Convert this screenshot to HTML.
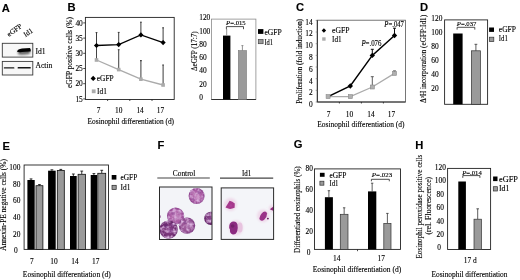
<!DOCTYPE html>
<html><head><meta charset="utf-8"><style>
html,body{margin:0;padding:0;background:#fff;}
svg{display:block;filter:blur(0.4px);}
text{font-family:'Liberation Serif',serif;stroke:#000;stroke-width:0.12px;}
</style></head><body>
<svg width="520" height="280" viewBox="0 0 520 280">
<defs>
<filter id="blur1" x="-50%" y="-50%" width="200%" height="200%"><feGaussianBlur stdDeviation="1.0"/></filter>
<filter id="blur04" x="-50%" y="-50%" width="200%" height="200%"><feGaussianBlur stdDeviation="0.4"/></filter>
<filter id="blur05" x="-50%" y="-50%" width="200%" height="200%"><feGaussianBlur stdDeviation="0.5"/></filter>
<radialGradient id="c1" cx="50%" cy="50%" r="50%"><stop offset="0" stop-color="#c07ab8"/><stop offset="0.75" stop-color="#a85aa2"/><stop offset="1" stop-color="#8a428c"/></radialGradient>
<radialGradient id="c2" cx="50%" cy="50%" r="50%"><stop offset="0" stop-color="#aa68a4"/><stop offset="0.75" stop-color="#945092"/><stop offset="1" stop-color="#7a3a80"/></radialGradient>
<radialGradient id="c3" cx="50%" cy="50%" r="50%"><stop offset="0" stop-color="#884286"/><stop offset="0.75" stop-color="#723074"/><stop offset="1" stop-color="#5e2264"/></radialGradient>
<filter id="mottle" x="0" y="0" width="100%" height="100%" color-interpolation-filters="sRGB">
<feTurbulence type="fractalNoise" baseFrequency="0.3" numOctaves="2" seed="11" result="n"/>
<feColorMatrix in="n" type="matrix" values="0 0 0 0 0.88  0 0 0 0 0.74  0 0 0 0 0.90  2.4 0 0 0 -0.95" result="spots0"/>
<feGaussianBlur in="spots0" stdDeviation="0.7" result="spots"/>
<feComposite in="spots" in2="SourceGraphic" operator="in" result="s2"/>
<feGaussianBlur in="SourceGraphic" stdDeviation="0.45" result="sg"/>
<feComposite in="s2" in2="sg" operator="in" result="s3"/>
<feMerge><feMergeNode in="sg"/><feMergeNode in="s3"/></feMerge>
</filter>
<clipPath id="clipC"><rect x="159.5" y="187" width="52.5" height="52.5"/></clipPath>
<clipPath id="clipI"><rect x="221.2" y="187.9" width="52.4" height="51.5"/></clipPath>
</defs>
<rect x="0" y="0" width="520" height="280" fill="#fff"/>
<text x="1.8" y="11.7" font-size="11.2" font-weight="bold" style="font-family:'Liberation Sans',sans-serif" fill="#000" stroke="#000" stroke-width="0.3">A</text>
<text x="9.1" y="37.0" font-size="7.3" text-anchor="start" fill="#000" transform="rotate(-36 9.1 37.0)" >eGFP</text>
<text x="25.5" y="37.2" font-size="7.3" text-anchor="start" fill="#000" transform="rotate(-34 25.5 37.2)" >Id1</text>
<rect x="2.3" y="43.3" width="30.5" height="13.8" fill="#f7f7f7" stroke="#3a3a3a" stroke-width="0.9"/>
<rect x="2.3" y="61.4" width="30.5" height="13.6" fill="#f7f7f7" stroke="#3a3a3a" stroke-width="0.9"/>
<path d="M17.6 51.0 L30.2 50.0 L29.8 53.8 Q24 55.4 18.4 54.4 Z" fill="#555" filter="url(#blur1)" opacity="0.9"/>
<path d="M17.0 51.8 Q17.6 49.0 22 48.5 L30.0 47.9 Q31.2 49.6 30.7 51.4 L22 52.1 Q18.6 52.6 17.0 51.8 Z" fill="#000" filter="url(#blur05)"/>
<rect x="3.8" y="67.2" width="10.6" height="1.4" rx="0.6" fill="#1e1e1e" filter="url(#blur04)"/>
<rect x="17.6" y="67.1" width="13.2" height="1.5" rx="0.6" fill="#161616" filter="url(#blur04)"/>
<text x="35.5" y="54.0" font-size="7.6" text-anchor="start" fill="#000" >Id1</text>
<text x="35.5" y="68.4" font-size="7.6" text-anchor="start" fill="#000" >Actin</text>
<text x="67.4" y="11.3" font-size="11.2" font-weight="bold" style="font-family:'Liberation Sans',sans-serif" fill="#000" stroke="#000" stroke-width="0.3">B</text>
<rect x="85.4" y="17.4" width="88.79999999999998" height="82.1" fill="none" stroke="#222" stroke-width="0.9"/>
<line x1="83.2" y1="98.9" x2="85.4" y2="98.9" stroke="#222" stroke-width="0.8"/>
<text x="82.80000000000001" y="101.5" font-size="7.4" text-anchor="end" fill="#000" >15</text>
<line x1="83.2" y1="83.7" x2="85.4" y2="83.7" stroke="#222" stroke-width="0.8"/>
<text x="82.80000000000001" y="86.3" font-size="7.4" text-anchor="end" fill="#000" >20</text>
<line x1="83.2" y1="68.5" x2="85.4" y2="68.5" stroke="#222" stroke-width="0.8"/>
<text x="82.80000000000001" y="71.1" font-size="7.4" text-anchor="end" fill="#000" >25</text>
<line x1="83.2" y1="53.300000000000004" x2="85.4" y2="53.300000000000004" stroke="#222" stroke-width="0.8"/>
<text x="82.80000000000001" y="55.900000000000006" font-size="7.4" text-anchor="end" fill="#000" >30</text>
<line x1="83.2" y1="38.10000000000001" x2="85.4" y2="38.10000000000001" stroke="#222" stroke-width="0.8"/>
<text x="82.80000000000001" y="40.70000000000001" font-size="7.4" text-anchor="end" fill="#000" >35</text>
<line x1="83.2" y1="22.900000000000006" x2="85.4" y2="22.900000000000006" stroke="#222" stroke-width="0.8"/>
<text x="82.80000000000001" y="25.500000000000007" font-size="7.4" text-anchor="end" fill="#000" >40</text>
<line x1="107.6" y1="99.5" x2="107.6" y2="101.0" stroke="#222" stroke-width="0.8"/>
<line x1="129.8" y1="99.5" x2="129.8" y2="101.0" stroke="#222" stroke-width="0.8"/>
<line x1="152.0" y1="99.5" x2="152.0" y2="101.0" stroke="#222" stroke-width="0.8"/>
<line x1="96.5" y1="45.5" x2="96.5" y2="32.6" stroke="#333" stroke-width="0.95"/>
<line x1="95.6" y1="32.6" x2="97.4" y2="32.6" stroke="#333" stroke-width="0.95"/>
<line x1="96.5" y1="60.0" x2="96.5" y2="45.5" stroke="#444" stroke-width="1.05"/>
<line x1="95.6" y1="45.5" x2="97.4" y2="45.5" stroke="#444" stroke-width="1.05"/>
<line x1="118.7" y1="44.6" x2="118.7" y2="32.4" stroke="#333" stroke-width="0.95"/>
<line x1="117.8" y1="32.4" x2="119.60000000000001" y2="32.4" stroke="#333" stroke-width="0.95"/>
<line x1="118.7" y1="69.6" x2="118.7" y2="49.7" stroke="#444" stroke-width="1.05"/>
<line x1="117.8" y1="49.7" x2="119.60000000000001" y2="49.7" stroke="#444" stroke-width="1.05"/>
<line x1="140.9" y1="34.9" x2="140.9" y2="22.2" stroke="#333" stroke-width="0.95"/>
<line x1="140.0" y1="22.2" x2="141.8" y2="22.2" stroke="#333" stroke-width="0.95"/>
<line x1="140.9" y1="79.2" x2="140.9" y2="60.6" stroke="#444" stroke-width="1.05"/>
<line x1="140.0" y1="60.6" x2="141.8" y2="60.6" stroke="#444" stroke-width="1.05"/>
<line x1="163.1" y1="42.6" x2="163.1" y2="27.8" stroke="#333" stroke-width="0.95"/>
<line x1="162.2" y1="27.8" x2="164.0" y2="27.8" stroke="#333" stroke-width="0.95"/>
<line x1="163.1" y1="85.0" x2="163.1" y2="65.0" stroke="#444" stroke-width="1.05"/>
<line x1="162.2" y1="65.0" x2="164.0" y2="65.0" stroke="#444" stroke-width="1.05"/>
<polyline points="96.5,60.0 118.7,69.6 140.9,79.2 163.1,85.0" fill="none" stroke="#ababab" stroke-width="1.35"/>
<polyline points="96.5,45.5 118.7,44.6 140.9,34.9 163.1,42.6" fill="none" stroke="#000" stroke-width="1.3"/>
<rect x="94.7" y="58.2" width="3.6" height="3.6" fill="#ababab" stroke="none" stroke-width="0.8"/>
<path d="M96.5 42.9 L99.1 45.5 L96.5 48.1 L93.9 45.5 Z" fill="#000"/>
<rect x="116.9" y="67.8" width="3.6" height="3.6" fill="#ababab" stroke="none" stroke-width="0.8"/>
<path d="M118.7 42.0 L121.3 44.6 L118.7 47.2 L116.10000000000001 44.6 Z" fill="#000"/>
<rect x="139.1" y="77.4" width="3.6" height="3.6" fill="#ababab" stroke="none" stroke-width="0.8"/>
<path d="M140.9 32.3 L143.5 34.9 L140.9 37.5 L138.3 34.9 Z" fill="#000"/>
<rect x="161.29999999999998" y="83.2" width="3.6" height="3.6" fill="#ababab" stroke="none" stroke-width="0.8"/>
<path d="M163.1 40.0 L165.7 42.6 L163.1 45.2 L160.5 42.6 Z" fill="#000"/>
<path d="M93.2 75.8 L95.8 78.4 L93.2 81.0 L90.6 78.4 Z" fill="#000"/>
<text x="96.8" y="80.9" font-size="7.4" text-anchor="start" fill="#000" >eGFP</text>
<rect x="91.8" y="89.4" width="3.8" height="3.8" fill="#ababab" stroke="none" stroke-width="0.8"/>
<text x="97.0" y="93.9" font-size="7.4" text-anchor="start" fill="#000" >Id1</text>
<text x="98.6" y="112.8" font-size="7.4" text-anchor="middle" fill="#000" >7</text>
<text x="118.7" y="112.8" font-size="7.4" text-anchor="middle" fill="#000" >10</text>
<text x="140.1" y="112.8" font-size="7.4" text-anchor="middle" fill="#000" >14</text>
<text x="160.4" y="112.8" font-size="7.4" text-anchor="middle" fill="#000" >17</text>
<text x="130.8" y="123.9" font-size="7.4" text-anchor="middle" fill="#000" textLength="86.5" lengthAdjust="spacingAndGlyphs" >Eosinophil differentiation (d)</text>
<text x="72.4" y="52.5" font-size="8.0" text-anchor="middle" fill="#000" textLength="71.0" lengthAdjust="spacingAndGlyphs" transform="rotate(-90 72.4 52.5)" >eGFP positive cells (%)</text>
<rect x="211.4" y="19.1" width="44.5" height="80.4" fill="none" stroke="#8a8a8a" stroke-width="0.8"/>
<line x1="211.4" y1="99.5" x2="255.9" y2="99.5" stroke="#222" stroke-width="0.9"/>
<text x="199.2" y="99.8" font-size="7.4" text-anchor="start" fill="#000" >0</text>
<text x="199.2" y="86.58" font-size="7.4" text-anchor="start" fill="#000" >20</text>
<text x="199.2" y="73.36" font-size="7.4" text-anchor="start" fill="#000" >40</text>
<text x="199.2" y="60.14" font-size="7.4" text-anchor="start" fill="#000" >60</text>
<text x="199.2" y="46.92" font-size="7.4" text-anchor="start" fill="#000" >80</text>
<text x="199.2" y="33.7" font-size="7.4" text-anchor="start" fill="#000" >100</text>
<text x="199.2" y="20.48" font-size="7.4" text-anchor="start" fill="#000" >120</text>
<rect x="223.0" y="35.6" width="7.4" height="63.9" fill="#000" stroke="none" stroke-width="0.8"/>
<rect x="238.3" y="50.6" width="8.2" height="48.9" fill="#9a9a9a" stroke="#777" stroke-width="0.6"/>
<line x1="226.7" y1="35.6" x2="226.7" y2="29.0" stroke="#777" stroke-width="0.8"/>
<line x1="242.4" y1="50.6" x2="242.4" y2="45.6" stroke="#777" stroke-width="0.8"/>
<line x1="241.4" y1="45.6" x2="243.4" y2="45.6" stroke="#777" stroke-width="0.8"/>
<path d="M226.4 29.200000000000003 L226.4 26.6 L243.5 26.6 L243.5 29.200000000000003" fill="none" stroke="#222" stroke-width="0.8"/>
<text x="235.9" y="25.4" font-size="6.0" text-anchor="middle" fill="#000" textLength="19.6" lengthAdjust="spacingAndGlyphs" ><tspan font-style="italic">P</tspan>=.015</text>
<rect x="258.0" y="29.1" width="5.4" height="4.8" fill="#000" stroke="none" stroke-width="0.8"/>
<text x="264.4" y="35.1" font-size="7.4" text-anchor="start" fill="#000" textLength="17.4" lengthAdjust="spacingAndGlyphs" >eGFP</text>
<rect x="258.3" y="39.4" width="4.8" height="4.3" fill="#9a9a9a" stroke="#444" stroke-width="0.7"/>
<text x="264.4" y="44.5" font-size="7.4" text-anchor="start" fill="#000" textLength="8.6" lengthAdjust="spacingAndGlyphs" >Id1</text>
<text x="196.6" y="51.15" font-size="8.8" text-anchor="middle" fill="#000" textLength="39.7" lengthAdjust="spacingAndGlyphs" transform="rotate(-90 196.6 51.15)" >&#916;eGFP (17:7)</text>
<text x="296.0" y="11.3" font-size="11.2" font-weight="bold" style="font-family:'Liberation Sans',sans-serif" fill="#000" stroke="#000" stroke-width="0.3">C</text>
<rect x="317.3" y="20.2" width="88.19999999999999" height="81.8" fill="none" stroke="#555" stroke-width="0.8"/>
<line x1="317.3" y1="20.2" x2="317.3" y2="102.0" stroke="#222" stroke-width="0.9"/>
<line x1="317.3" y1="102.0" x2="405.5" y2="102.0" stroke="#222" stroke-width="0.9"/>
<text x="312.7" y="107.3" font-size="7.4" text-anchor="end" fill="#000" >0</text>
<text x="312.7" y="95.47" font-size="7.4" text-anchor="end" fill="#000" >2</text>
<text x="312.7" y="83.64" font-size="7.4" text-anchor="end" fill="#000" >4</text>
<text x="312.7" y="71.82" font-size="7.4" text-anchor="end" fill="#000" >6</text>
<text x="312.7" y="59.99" font-size="7.4" text-anchor="end" fill="#000" >8</text>
<text x="312.7" y="48.16" font-size="7.4" text-anchor="end" fill="#000" >10</text>
<text x="312.7" y="36.33" font-size="7.4" text-anchor="end" fill="#000" >12</text>
<text x="312.7" y="24.5" font-size="7.4" text-anchor="end" fill="#000" >14</text>
<line x1="315.7" y1="102.0" x2="317.3" y2="102.0" stroke="#777" stroke-width="0.7"/>
<line x1="315.7" y1="90.34" x2="317.3" y2="90.34" stroke="#777" stroke-width="0.7"/>
<line x1="315.7" y1="78.68" x2="317.3" y2="78.68" stroke="#777" stroke-width="0.7"/>
<line x1="315.7" y1="67.02" x2="317.3" y2="67.02" stroke="#777" stroke-width="0.7"/>
<line x1="315.7" y1="55.36" x2="317.3" y2="55.36" stroke="#777" stroke-width="0.7"/>
<line x1="315.7" y1="43.7" x2="317.3" y2="43.7" stroke="#777" stroke-width="0.7"/>
<line x1="315.7" y1="32.03999999999999" x2="317.3" y2="32.03999999999999" stroke="#777" stroke-width="0.7"/>
<line x1="315.7" y1="20.379999999999995" x2="317.3" y2="20.379999999999995" stroke="#777" stroke-width="0.7"/>
<line x1="339.4" y1="102.0" x2="339.4" y2="103.5" stroke="#222" stroke-width="0.8"/>
<line x1="361.4" y1="102.0" x2="361.4" y2="103.5" stroke="#222" stroke-width="0.8"/>
<line x1="383.4" y1="102.0" x2="383.4" y2="103.5" stroke="#222" stroke-width="0.8"/>
<line x1="372.3" y1="55.4" x2="372.3" y2="49.3" stroke="#000" stroke-width="0.95"/>
<line x1="370.8" y1="49.3" x2="373.8" y2="49.3" stroke="#000" stroke-width="0.95"/>
<line x1="394.5" y1="35.5" x2="394.5" y2="28.2" stroke="#000" stroke-width="0.95"/>
<line x1="393.0" y1="28.2" x2="396.0" y2="28.2" stroke="#000" stroke-width="0.95"/>
<line x1="372.3" y1="87.0" x2="372.3" y2="76.7" stroke="#555" stroke-width="0.95"/>
<line x1="370.8" y1="76.7" x2="373.8" y2="76.7" stroke="#555" stroke-width="0.95"/>
<line x1="394.5" y1="73.4" x2="394.5" y2="70.9" stroke="#555" stroke-width="0.95"/>
<line x1="393.0" y1="70.9" x2="396.0" y2="70.9" stroke="#555" stroke-width="0.95"/>
<polyline points="328.1,96.6 350.3,96.6 372.3,87.0 394.5,73.4" fill="none" stroke="#ababab" stroke-width="1.3"/>
<polyline points="328.1,96.6 350.3,86.0 372.3,55.4 394.5,35.5" fill="none" stroke="#000" stroke-width="1.5"/>
<rect x="326.1" y="94.6" width="4.0" height="4.0" fill="#b0b0b0" stroke="#8a8a8a" stroke-width="0.6"/>
<rect x="348.3" y="94.6" width="4.0" height="4.0" fill="#b0b0b0" stroke="#8a8a8a" stroke-width="0.6"/>
<rect x="370.3" y="85.0" width="4.0" height="4.0" fill="#b0b0b0" stroke="#8a8a8a" stroke-width="0.6"/>
<rect x="392.5" y="71.4" width="4.0" height="4.0" fill="#b0b0b0" stroke="#8a8a8a" stroke-width="0.6"/>
<path d="M350.3 83.3 L353.0 86.0 L350.3 88.7 L347.6 86.0 Z" fill="#000"/>
<path d="M372.3 52.699999999999996 L375.0 55.4 L372.3 58.1 L369.6 55.4 Z" fill="#000"/>
<path d="M394.5 32.8 L397.2 35.5 L394.5 38.2 L391.8 35.5 Z" fill="#000"/>
<path d="M323.9 28.3 L326.1 30.5 L323.9 32.7 L321.7 30.5 Z" fill="#000"/>
<text x="332.0" y="33.0" font-size="7.4" text-anchor="start" fill="#000" textLength="17.4" lengthAdjust="spacingAndGlyphs" >eGFP</text>
<rect x="322.2" y="37.3" width="3.4" height="3.4" fill="#ababab" stroke="none" stroke-width="0.8"/>
<text x="332.0" y="41.6" font-size="7.4" text-anchor="start" fill="#000" textLength="9.6" lengthAdjust="spacingAndGlyphs" >Id1</text>
<text x="371.45" y="46.4" font-size="7.3" text-anchor="middle" fill="#000" textLength="20.1" lengthAdjust="spacingAndGlyphs" ><tspan font-style="italic">P</tspan>=.076</text>
<text x="394.15" y="27.1" font-size="7.3" text-anchor="middle" fill="#000" textLength="19.7" lengthAdjust="spacingAndGlyphs" ><tspan font-style="italic">P</tspan>=.047</text>
<text x="328.7" y="116.8" font-size="7.4" text-anchor="middle" fill="#000" >7</text>
<text x="349.4" y="116.8" font-size="7.4" text-anchor="middle" fill="#000" >10</text>
<text x="371.0" y="116.8" font-size="7.4" text-anchor="middle" fill="#000" >14</text>
<text x="391.4" y="116.8" font-size="7.4" text-anchor="middle" fill="#000" >17</text>
<text x="360.9" y="126.6" font-size="7.4" text-anchor="middle" fill="#000" textLength="87.2" lengthAdjust="spacingAndGlyphs" >Eosinophil differentiation (d)</text>
<text x="302.3" y="61.4" font-size="8.0" text-anchor="middle" fill="#000" textLength="84.8" lengthAdjust="spacingAndGlyphs" transform="rotate(-90 302.3 61.4)" >Proliferation (fold induction)</text>
<text x="420.0" y="11.3" font-size="11.2" font-weight="bold" style="font-family:'Liberation Sans',sans-serif" fill="#000" stroke="#000" stroke-width="0.3">D</text>
<rect x="444.6" y="19.9" width="43.0" height="84.4" fill="none" stroke="#222" stroke-width="0.9"/>
<text x="431.3" y="90.64" font-size="7.4" text-anchor="start" fill="#000" >20</text>
<text x="431.3" y="76.78" font-size="7.4" text-anchor="start" fill="#000" >40</text>
<text x="431.3" y="62.92" font-size="7.4" text-anchor="start" fill="#000" >60</text>
<text x="431.3" y="49.06" font-size="7.4" text-anchor="start" fill="#000" >80</text>
<text x="431.3" y="35.2" font-size="7.4" text-anchor="start" fill="#000" >100</text>
<text x="431.3" y="21.34" font-size="7.4" text-anchor="start" fill="#000" >120</text>
<rect x="453.2" y="33.5" width="9.4" height="70.8" fill="#000" stroke="none" stroke-width="0.8"/>
<rect x="471.4" y="50.8" width="9.0" height="53.5" fill="#9a9a9a" stroke="#333" stroke-width="0.7"/>
<line x1="475.9" y1="50.8" x2="475.9" y2="44.3" stroke="#333" stroke-width="0.8"/>
<line x1="474.5" y1="44.3" x2="477.29999999999995" y2="44.3" stroke="#333" stroke-width="0.8"/>
<path d="M457.1 29.6 L457.1 27.3 L474.8 27.3 L474.8 29.6" fill="none" stroke="#222" stroke-width="0.8"/>
<text x="466.6" y="26.0" font-size="6.0" text-anchor="middle" fill="#000" textLength="19.6" lengthAdjust="spacingAndGlyphs" ><tspan font-style="italic">P</tspan>=.037</text>
<rect x="489.1" y="27.5" width="4.9" height="4.4" fill="#000" stroke="none" stroke-width="0.8"/>
<text x="498.8" y="31.7" font-size="7.4" text-anchor="start" fill="#000" textLength="17.2" lengthAdjust="spacingAndGlyphs" >eGFP</text>
<rect x="489.4" y="37.2" width="4.4" height="4.4" fill="#9a9a9a" stroke="#333" stroke-width="0.7"/>
<text x="498.8" y="41.4" font-size="7.4" text-anchor="start" fill="#000" textLength="9.0" lengthAdjust="spacingAndGlyphs" >Id1</text>
<text x="426.1" y="58.9" font-size="8.0" text-anchor="middle" fill="#000" textLength="88.2" lengthAdjust="spacingAndGlyphs" transform="rotate(-90 426.1 58.9)" >&#916;<tspan font-size="5" dy="-2">3</tspan><tspan dy="2">H incorporation (eGFP:Id1)</tspan></text>
<text x="2.4" y="149.7" font-size="11.2" font-weight="bold" style="font-family:'Liberation Sans',sans-serif" fill="#000" stroke="#000" stroke-width="0.3">E</text>
<rect x="24.1" y="165.0" width="84.4" height="84.4" fill="none" stroke="#222" stroke-width="0.9"/>
<text x="17.8" y="253.2" font-size="7.4" text-anchor="end" fill="#000" >0</text>
<text x="20.4" y="236.6" font-size="7.4" text-anchor="end" fill="#000" >20</text>
<text x="20.4" y="220.0" font-size="7.4" text-anchor="end" fill="#000" >40</text>
<text x="20.4" y="203.4" font-size="7.4" text-anchor="end" fill="#000" >60</text>
<text x="20.4" y="186.8" font-size="7.4" text-anchor="end" fill="#000" >80</text>
<text x="20.4" y="170.2" font-size="7.4" text-anchor="end" fill="#000" >100</text>
<line x1="31.05" y1="180.0" x2="31.05" y2="178.9" stroke="#000" stroke-width="0.8"/>
<line x1="29.650000000000002" y1="178.9" x2="32.45" y2="178.9" stroke="#000" stroke-width="0.8"/>
<rect x="27.4" y="180.0" width="7.300000000000004" height="69.4" fill="#000" stroke="none" stroke-width="0.8"/>
<line x1="39.45" y1="185.7" x2="39.45" y2="184.6" stroke="#000" stroke-width="0.8"/>
<line x1="38.050000000000004" y1="184.6" x2="40.85" y2="184.6" stroke="#000" stroke-width="0.8"/>
<rect x="36.0" y="185.7" width="6.899999999999999" height="63.70000000000002" fill="#9a9a9a" stroke="#111" stroke-width="0.8"/>
<line x1="51.900000000000006" y1="170.7" x2="51.900000000000006" y2="169.8" stroke="#000" stroke-width="0.8"/>
<line x1="50.50000000000001" y1="169.8" x2="53.300000000000004" y2="169.8" stroke="#000" stroke-width="0.8"/>
<rect x="48.1" y="170.7" width="7.600000000000001" height="78.70000000000002" fill="#000" stroke="none" stroke-width="0.8"/>
<line x1="60.8" y1="170.4" x2="60.8" y2="169.4" stroke="#000" stroke-width="0.8"/>
<line x1="59.4" y1="169.4" x2="62.199999999999996" y2="169.4" stroke="#000" stroke-width="0.8"/>
<rect x="57.3" y="170.4" width="7.0" height="79.0" fill="#9a9a9a" stroke="#111" stroke-width="0.8"/>
<line x1="73.35" y1="176.0" x2="73.35" y2="174.0" stroke="#000" stroke-width="0.8"/>
<line x1="71.94999999999999" y1="174.0" x2="74.75" y2="174.0" stroke="#000" stroke-width="0.8"/>
<rect x="70.0" y="176.0" width="6.700000000000003" height="73.4" fill="#000" stroke="none" stroke-width="0.8"/>
<line x1="81.75" y1="174.3" x2="81.75" y2="171.1" stroke="#000" stroke-width="0.8"/>
<line x1="80.35" y1="171.1" x2="83.15" y2="171.1" stroke="#000" stroke-width="0.8"/>
<rect x="78.1" y="174.3" width="7.300000000000011" height="75.1" fill="#9a9a9a" stroke="#111" stroke-width="0.8"/>
<line x1="93.9" y1="175.0" x2="93.9" y2="173.6" stroke="#000" stroke-width="0.8"/>
<line x1="92.5" y1="173.6" x2="95.30000000000001" y2="173.6" stroke="#000" stroke-width="0.8"/>
<rect x="90.7" y="175.0" width="6.3999999999999915" height="74.4" fill="#000" stroke="none" stroke-width="0.8"/>
<line x1="101.75" y1="173.3" x2="101.75" y2="170.3" stroke="#000" stroke-width="0.8"/>
<line x1="100.35" y1="170.3" x2="103.15" y2="170.3" stroke="#000" stroke-width="0.8"/>
<rect x="97.8" y="173.3" width="7.900000000000006" height="76.1" fill="#9a9a9a" stroke="#111" stroke-width="0.8"/>
<rect x="111.7" y="175.0" width="4.7" height="4.6" fill="#000" stroke="none" stroke-width="0.8"/>
<text x="120.5" y="179.8" font-size="7.4" text-anchor="start" fill="#000" >eGFP</text>
<rect x="112.0" y="185.3" width="4.2" height="4.2" fill="#9a9a9a" stroke="#222" stroke-width="0.7"/>
<text x="120.5" y="190.0" font-size="7.4" text-anchor="start" fill="#000" >Id1</text>
<text x="31.9" y="263.6" font-size="7.4" text-anchor="middle" fill="#000" >7</text>
<text x="54.0" y="263.6" font-size="7.4" text-anchor="middle" fill="#000" >10</text>
<text x="75.0" y="263.6" font-size="7.4" text-anchor="middle" fill="#000" >14</text>
<text x="95.8" y="263.6" font-size="7.4" text-anchor="middle" fill="#000" >17</text>
<text x="66.8" y="276.9" font-size="7.4" text-anchor="middle" fill="#000" textLength="88.0" lengthAdjust="spacingAndGlyphs" >Eosinophil differentiation (d)</text>
<text x="6.4" y="204.9" font-size="8.0" text-anchor="middle" fill="#000" textLength="91.6" lengthAdjust="spacingAndGlyphs" transform="rotate(-90 6.4 204.9)" >Annexin-PE negative cells (%)</text>
<text x="157.4" y="149.4" font-size="11.2" font-weight="bold" style="font-family:'Liberation Sans',sans-serif" fill="#000" stroke="#000" stroke-width="0.3">F</text>
<text x="184.1" y="176.0" font-size="7.4" text-anchor="middle" fill="#000" textLength="22.5" lengthAdjust="spacingAndGlyphs" >Control</text>
<line x1="157.3" y1="178.0" x2="209.8" y2="178.0" stroke="#444" stroke-width="1.2"/>
<text x="246.6" y="175.7" font-size="7.4" text-anchor="middle" fill="#000" textLength="9.2" lengthAdjust="spacingAndGlyphs" >Id1</text>
<line x1="220.0" y1="178.1" x2="273.2" y2="178.1" stroke="#444" stroke-width="1.2"/>
<g clip-path="url(#clipC)">
<rect x="159.5" y="187.0" width="52.5" height="52.5" fill="#f3f4f8" stroke="none" stroke-width="0.8"/>
<circle cx="196.6" cy="196.0" r="8.0" fill="url(#c1)" filter="url(#mottle)"/>
<circle cx="175.6" cy="216.0" r="8.6" fill="url(#c1)" filter="url(#mottle)"/>
<circle cx="187.0" cy="225.6" r="8.2" fill="url(#c2)" filter="url(#mottle)"/>
<circle cx="168.6" cy="229.6" r="9.2" fill="url(#c3)" filter="url(#mottle)"/>
<circle cx="210.8" cy="218.4" r="6.6" fill="url(#c3)" filter="url(#mottle)"/>
<circle cx="159.2" cy="216.5" r="1.6" fill="url(#c3)" filter="url(#mottle)"/>
<circle cx="198.5" cy="197.5" r="2.2" fill="#d2a7d0" filter="url(#blur05)" opacity="0.45"/>
<circle cx="194.5" cy="194.2" r="1.6" fill="#c79ac6" filter="url(#blur05)" opacity="0.45"/>
<circle cx="199.0" cy="192.4" r="1.8" fill="#7f3e8c" filter="url(#blur05)" opacity="0.45"/>
<circle cx="193.2" cy="199.2" r="1.4" fill="#8d4c96" filter="url(#blur05)" opacity="0.45"/>
<circle cx="177.5" cy="217.5" r="2.4" fill="#c394c4" filter="url(#blur05)" opacity="0.45"/>
<circle cx="173.2" cy="213.5" r="1.8" fill="#8a4a94" filter="url(#blur05)" opacity="0.45"/>
<circle cx="179.2" cy="212.8" r="1.4" fill="#b888bb" filter="url(#blur05)" opacity="0.45"/>
<circle cx="174.0" cy="219.6" r="1.6" fill="#b384b7" filter="url(#blur05)" opacity="0.45"/>
<circle cx="188.5" cy="226.5" r="2.2" fill="#b080b6" filter="url(#blur05)" opacity="0.45"/>
<circle cx="185.0" cy="222.5" r="1.5" fill="#7a3d88" filter="url(#blur05)" opacity="0.45"/>
<circle cx="190.2" cy="222.0" r="1.3" fill="#a06aa8" filter="url(#blur05)" opacity="0.45"/>
<circle cx="170.5" cy="230.5" r="2.6" fill="#874496" filter="url(#blur05)" opacity="0.45"/>
<circle cx="166.0" cy="226.0" r="2.0" fill="#5e2270" filter="url(#blur05)" opacity="0.45"/>
<circle cx="172.0" cy="225.0" r="1.6" fill="#7a3a88" filter="url(#blur05)" opacity="0.45"/>
<circle cx="210.0" cy="218.5" r="2.0" fill="#8c4b96" filter="url(#blur05)" opacity="0.45"/>
</g>
<rect x="159.5" y="187.0" width="52.5" height="52.5" fill="none" stroke="#2a2a2a" stroke-width="1.0"/>
<g clip-path="url(#clipI)">
<rect x="221.2" y="187.9" width="52.4" height="51.5" fill="#f4f5f9" stroke="none" stroke-width="0.8"/>
<ellipse cx="230.5" cy="204.5" rx="6.6" ry="6.4" fill="#efd9ea" filter="url(#blur1)"/>
<ellipse cx="236.0" cy="227.8" rx="7.0" ry="7.6" fill="#efd9ea" filter="url(#blur1)"/>
<ellipse cx="263.2" cy="215.8" rx="6.2" ry="6.4" fill="#efd9ea" filter="url(#blur1)"/>
<ellipse cx="272.5" cy="208.5" rx="3.6" ry="3.6" fill="#efd9ea" filter="url(#blur1)"/>
<ellipse cx="240.0" cy="227.5" rx="2.6" ry="5.0" fill="#e7c3df" filter="url(#blur05)"/>
<path d="M225.5 207.4 L229.6 200.8 Q232.5 201.2 234.8 203.6 L234.6 207.8 Q231.5 209.2 229 208.8 Z" fill="#a6388c" filter="url(#blur05)"/>
<path d="M229.3 225.5 Q230 221.8 233.5 221.5 Q236.6 221.4 237.5 224.5 Q238.1 228 237.3 231 Q236 234.8 232.8 234.5 Q229.5 233.5 230 229.6 Q228.8 227.8 229.3 225.5 Z" fill="#8c2a80" filter="url(#blur05)"/>
<path d="M259.4 219.0 Q259.8 214.6 263.2 212.0 Q266.4 210.8 267.0 213.4 Q267.2 217.0 264.2 219.8 Q261.0 221.8 259.4 219.0 Z" fill="#9a3088" filter="url(#blur05)"/>
<path d="M269.8 209.2 L273.8 206.2 L273.8 211.0 Z" fill="#8e2a7a" filter="url(#blur05)"/>
<circle cx="232.6" cy="226.0" r="1.8" fill="#6a1a62" filter="url(#blur05)" opacity="0.7"/>
<circle cx="230.8" cy="205.6" r="1.4" fill="#b0409a" filter="url(#blur05)" opacity="0.8"/>
<circle cx="267.9" cy="218.6" r="0.9" fill="#5e1458" filter="url(#blur04)"/>
</g>
<rect x="221.2" y="187.9" width="52.4" height="51.5" fill="none" stroke="#2a2a2a" stroke-width="1.0"/>
<text x="293.7" y="148.4" font-size="11.2" font-weight="bold" style="font-family:'Liberation Sans',sans-serif" fill="#000" stroke="#000" stroke-width="0.3">G</text>
<rect x="314.5" y="168.9" width="86.0" height="80.5" fill="none" stroke="#222" stroke-width="0.9"/>
<text x="308.6" y="254.7" font-size="7.4" text-anchor="middle" fill="#000" >0</text>
<text x="309.2" y="233.7" font-size="7.4" text-anchor="middle" fill="#000" >20</text>
<text x="309.2" y="212.7" font-size="7.4" text-anchor="middle" fill="#000" >40</text>
<text x="309.2" y="191.7" font-size="7.4" text-anchor="middle" fill="#000" >60</text>
<text x="309.2" y="170.7" font-size="7.4" text-anchor="middle" fill="#000" >80</text>
<line x1="357.5" y1="249.4" x2="357.5" y2="251.20000000000002" stroke="#222" stroke-width="0.8"/>
<line x1="328.9" y1="197.2" x2="328.9" y2="190.7" stroke="#333" stroke-width="0.8"/>
<line x1="327.7" y1="190.7" x2="330.09999999999997" y2="190.7" stroke="#333" stroke-width="0.8"/>
<rect x="324.9" y="197.2" width="8.0" height="52.20000000000002" fill="#000" stroke="none" stroke-width="0.8"/>
<line x1="344.15" y1="214.3" x2="344.15" y2="207.8" stroke="#333" stroke-width="0.8"/>
<line x1="342.95" y1="207.8" x2="345.34999999999997" y2="207.8" stroke="#333" stroke-width="0.8"/>
<rect x="340.3" y="214.3" width="7.699999999999989" height="35.099999999999994" fill="#9a9a9a" stroke="#333" stroke-width="0.7"/>
<line x1="372.15" y1="191.4" x2="372.15" y2="183.2" stroke="#333" stroke-width="0.8"/>
<line x1="370.95" y1="183.2" x2="373.34999999999997" y2="183.2" stroke="#333" stroke-width="0.8"/>
<rect x="368.0" y="191.4" width="8.300000000000011" height="58.0" fill="#000" stroke="none" stroke-width="0.8"/>
<line x1="387.4" y1="223.4" x2="387.4" y2="213.4" stroke="#333" stroke-width="0.8"/>
<line x1="386.2" y1="213.4" x2="388.59999999999997" y2="213.4" stroke="#333" stroke-width="0.8"/>
<rect x="383.8" y="223.4" width="7.199999999999989" height="26.0" fill="#9a9a9a" stroke="#333" stroke-width="0.7"/>
<path d="M371.4 181.3 L371.4 179.3 L389.3 179.3 L389.3 181.3" fill="none" stroke="#222" stroke-width="0.8"/>
<text x="382.0" y="177.3" font-size="6.4" text-anchor="middle" fill="#000" textLength="20.3" lengthAdjust="spacingAndGlyphs" ><tspan font-style="italic">P</tspan>=.023</text>
<rect x="319.9" y="172.8" width="4.7" height="4.0" fill="#000" stroke="none" stroke-width="0.8"/>
<text x="329.4" y="178.1" font-size="7.4" text-anchor="start" fill="#000" textLength="17.0" lengthAdjust="spacingAndGlyphs" >eGFP</text>
<rect x="319.9" y="181.2" width="4.0" height="4.0" fill="#9a9a9a" stroke="#333" stroke-width="0.7"/>
<text x="329.4" y="185.8" font-size="7.4" text-anchor="start" fill="#000" textLength="9.0" lengthAdjust="spacingAndGlyphs" >Id1</text>
<text x="336.7" y="260.6" font-size="7.4" text-anchor="middle" fill="#000" >14</text>
<text x="381.2" y="260.6" font-size="7.4" text-anchor="middle" fill="#000" >17</text>
<text x="357.0" y="272.3" font-size="7.4" text-anchor="middle" fill="#000" textLength="88.5" lengthAdjust="spacingAndGlyphs" >Eosinophil differentiation (d)</text>
<text x="300.4" y="209.6" font-size="8.0" text-anchor="middle" fill="#000" textLength="86.6" lengthAdjust="spacingAndGlyphs" transform="rotate(-90 300.4 209.6)" >Differentiated eosinophils (%)</text>
<text x="415.2" y="148.9" font-size="11.2" font-weight="bold" style="font-family:'Liberation Sans',sans-serif" fill="#000" stroke="#000" stroke-width="0.3">H</text>
<rect x="447.6" y="168.4" width="43.0" height="81.1" fill="none" stroke="#222" stroke-width="0.9"/>
<text x="439.1" y="250.3" font-size="7.4" text-anchor="middle" fill="#000" >0</text>
<text x="440.3" y="236.92" font-size="7.4" text-anchor="middle" fill="#000" >20</text>
<text x="440.3" y="223.54" font-size="7.4" text-anchor="middle" fill="#000" >40</text>
<text x="440.3" y="210.16" font-size="7.4" text-anchor="middle" fill="#000" >60</text>
<text x="440.3" y="196.78" font-size="7.4" text-anchor="middle" fill="#000" >80</text>
<text x="440.3" y="183.4" font-size="7.4" text-anchor="middle" fill="#000" >100</text>
<text x="440.3" y="170.02" font-size="7.4" text-anchor="middle" fill="#000" >120</text>
<rect x="458.3" y="181.5" width="7.6" height="68.0" fill="#000" stroke="none" stroke-width="0.8"/>
<rect x="474.0" y="219.2" width="7.4" height="30.30000000000001" fill="#9a9a9a" stroke="#333" stroke-width="0.7"/>
<line x1="477.7" y1="219.2" x2="477.7" y2="208.8" stroke="#333" stroke-width="0.8"/>
<line x1="476.4" y1="208.8" x2="479.0" y2="208.8" stroke="#333" stroke-width="0.8"/>
<path d="M462.8 177.9 L462.8 175.6 L479.9 175.6 L479.9 177.9" fill="none" stroke="#222" stroke-width="0.8"/>
<text x="472.0" y="174.6" font-size="6.0" text-anchor="middle" fill="#000" textLength="19.6" lengthAdjust="spacingAndGlyphs" ><tspan font-style="italic">P</tspan>=.014</text>
<rect x="493.1" y="176.5" width="4.4" height="4.6" fill="#000" stroke="none" stroke-width="0.8"/>
<text x="499.0" y="181.6" font-size="7.4" text-anchor="start" fill="#000" textLength="19.0" lengthAdjust="spacingAndGlyphs" >eGFP</text>
<rect x="493.3" y="186.7" width="4.1" height="4.3" fill="#9a9a9a" stroke="#333" stroke-width="0.7"/>
<text x="499.0" y="190.9" font-size="7.4" text-anchor="start" fill="#000" textLength="10.5" lengthAdjust="spacingAndGlyphs" >Id1</text>
<text x="470.3" y="262.7" font-size="7.4" text-anchor="middle" fill="#000" >17 d</text>
<text x="431.5" y="276.9" font-size="7.4" text-anchor="start" fill="#000" >Eosinophil differentiation</text>
<text x="421.8" y="206.6" font-size="7.8" text-anchor="middle" fill="#000" textLength="104.0" lengthAdjust="spacingAndGlyphs" transform="rotate(-90 421.8 206.6)" >Eosinophil peroxidase positive cells</text>
<text x="431.2" y="205.7" font-size="7.8" text-anchor="middle" fill="#000" textLength="57.8" lengthAdjust="spacingAndGlyphs" transform="rotate(-90 431.2 205.7)" >(rel. Fluorescence)</text>
</svg>
</body></html>
